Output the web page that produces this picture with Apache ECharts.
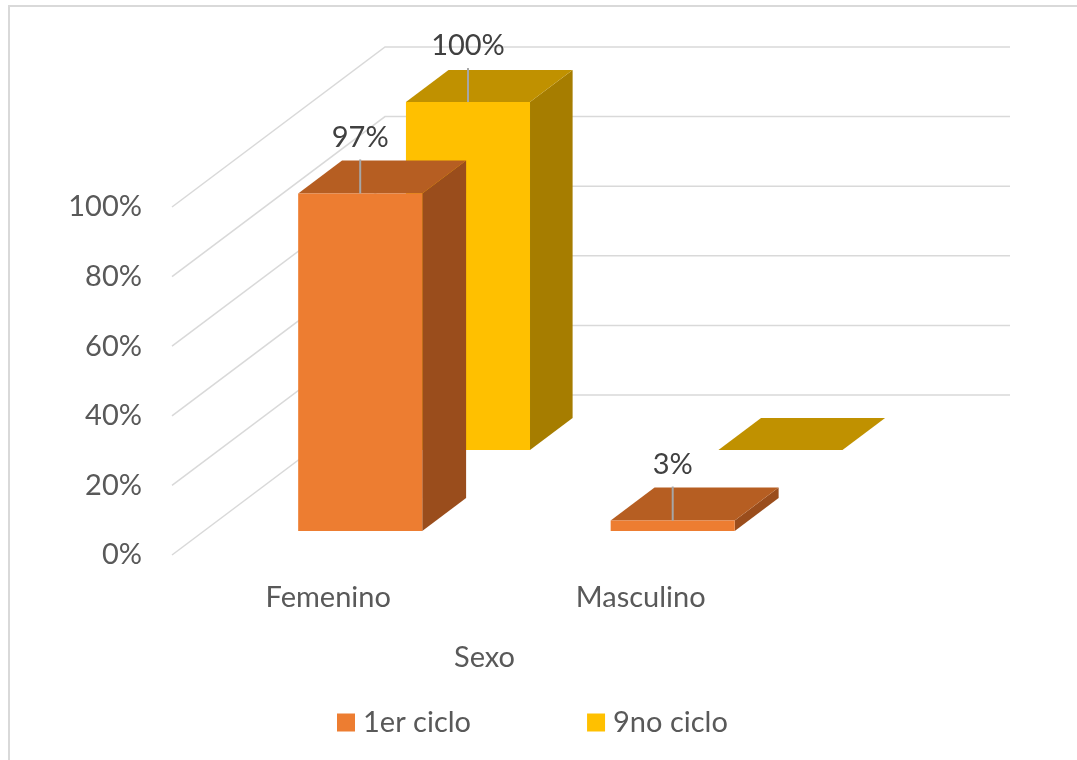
<!DOCTYPE html>
<html>
<head>
<meta charset="utf-8">
<title>Sexo</title>
<script src="https://cdn.jsdelivr.net/npm/echarts@6/dist/echarts.min.js"></script>
<style>
  html, body { margin: 0; padding: 0; background: #fff; }
  #chart { width: 1077px; height: 760px; }
</style>
</head>
<body>
<div id="chart"></div>
<script>
// data
const categories = ["Femenino", "Masculino"];
const seriesNames = ["1er ciclo", "9no ciclo"];
const ciclo1 = [0.97, 0.03];
const ciclo9 = [1.0, 0.0];
const ticks = [0, 0.2, 0.4, 0.6, 0.8, 1];

const TEXT = "#595959";
const FONT = "Lato, 'Open Sans', sans-serif";
const FS = 29;
// how far the floor goes back (px) from the front-left corner
const DEPTH_X = 213, DEPTH_Y = -160;

const chart = echarts.init(document.getElementById("chart"));

function renderWall(params, api) {
  const cs = params.coordSys;
  const y = api.coord([0, api.value(1)])[1];
  return {
    type: "polyline",
    shape: {
      points: [
        [cs.x, y],
        [cs.x + DEPTH_X, y + DEPTH_Y],
        [cs.x + cs.width + DEPTH_X, y + DEPTH_Y],
      ],
    },
    style: { stroke: "#D9D9D9", lineWidth: 1.5, fill: null },
    silent: true,
  };
}

// f0/f1 = front and back of the bar row, as a fraction of the floor depth
function barRenderer(colors, f0, f1) {
  return function (params, api) {
    const cat = api.value(0);
    const v = api.value(1);
    const top = api.coord([cat, v]);
    const base = api.coord([cat, 0]);
    const w = api.size([1, 0])[0] * 0.397;
    const x0 = top[0] - w / 2 + DEPTH_X * f0;
    const x1 = x0 + w;
    const yt = top[1] + DEPTH_Y * f0;
    const yb = base[1] + DEPTH_Y * f0;
    const dx = DEPTH_X * (f1 - f0);
    const dy = DEPTH_Y * (f1 - f0);
    const children = [
      {
        type: "polygon",
        shape: { points: [[x1, yt], [x1 + dx, yt + dy], [x1 + dx, yb + dy], [x1, yb]] },
        style: { fill: colors.side },
      },
      {
        type: "polygon",
        shape: { points: [[x0, yt], [x1, yt], [x1 + dx, yt + dy], [x0 + dx, yt + dy]] },
        style: { fill: colors.top },
      },
      {
        type: "rect",
        shape: { x: x0, y: yt, width: w, height: yb - yt },
        style: { fill: colors.front },
      },
    ];
    if (v > 0) {
      const cx = (x0 + x1) / 2;
      children.push({
        type: "line",
        shape: { x1: cx, y1: yt - 34, x2: cx, y2: yt },
        style: { stroke: "#A6A6A6", lineWidth: 2 },
      });
      children.push({
        type: "text",
        style: {
          x: cx,
          y: yt - 56,
          text: Math.round(v * 100) + "%",
          fill: "#404040",
          font: FS + "px " + FONT,
          align: "center",
          verticalAlign: "middle",
        },
      });
    }
    return { type: "group", children: children };
  };
}

const option = {
  backgroundColor: "#fff",
  animation: false,
  textStyle: { fontFamily: FONT },
  graphic: [
    {
      type: "rect",
      shape: { x: 9, y: 6, width: 1300, height: 1000 },
      style: { fill: null, stroke: "#D9D9D9", lineWidth: 2 },
      silent: true,
    },
  ],
  grid: { left: 172, right: 280, top: 207, bottom: 205 },
  legend: {
    data: seriesNames,
    top: 703,
    left: 332,
    icon: "rect",
    itemWidth: 18,
    itemHeight: 18,
    itemGap: 116,
    textStyle: { color: TEXT, fontSize: FS, fontFamily: FONT, padding: [0, 0, 0, 3] },
  },
  xAxis: {
    type: "category",
    data: categories,
    axisLine: { show: false },
    axisTick: { show: false },
    axisLabel: { color: TEXT, fontSize: FS, margin: 28 },
    name: "Sexo",
    nameLocation: "middle",
    nameGap: 88,
    nameTextStyle: { color: TEXT, fontSize: FS },
  },
  yAxis: {
    type: "value",
    min: 0,
    max: 1,
    interval: 0.2,
    axisLine: { show: false },
    axisTick: { show: false },
    splitLine: { show: false },
    axisLabel: {
      color: TEXT,
      fontSize: FS,
      margin: 30,
      formatter: (v) => Math.round(v * 100) + "%",
    },
  },
  series: [
    {
      type: "custom",
      name: "wall",
      renderItem: renderWall,
      data: ticks.map((t) => [0, t]),
      z: 1,
      silent: true,
    },
    {
      type: "custom",
      name: seriesNames[0],
      itemStyle: { color: "#ED7D31" },
      renderItem: barRenderer({ front: "#ED7D31", top: "#B65E22", side: "#9A4D1C" }, 0.15, 0.356),
      data: ciclo1.map((v, i) => [i, v]),
      z: 4,
    },
    {
      type: "custom",
      name: seriesNames[1],
      itemStyle: { color: "#FFC000" },
      renderItem: barRenderer({ front: "#FFC000", top: "#C09100", side: "#A67D00" }, 0.656, 0.856),
      data: ciclo9.map((v, i) => [i, v]),
      z: 3,
    },
  ],
};

chart.setOption(option);
</script>
</body>
</html>
